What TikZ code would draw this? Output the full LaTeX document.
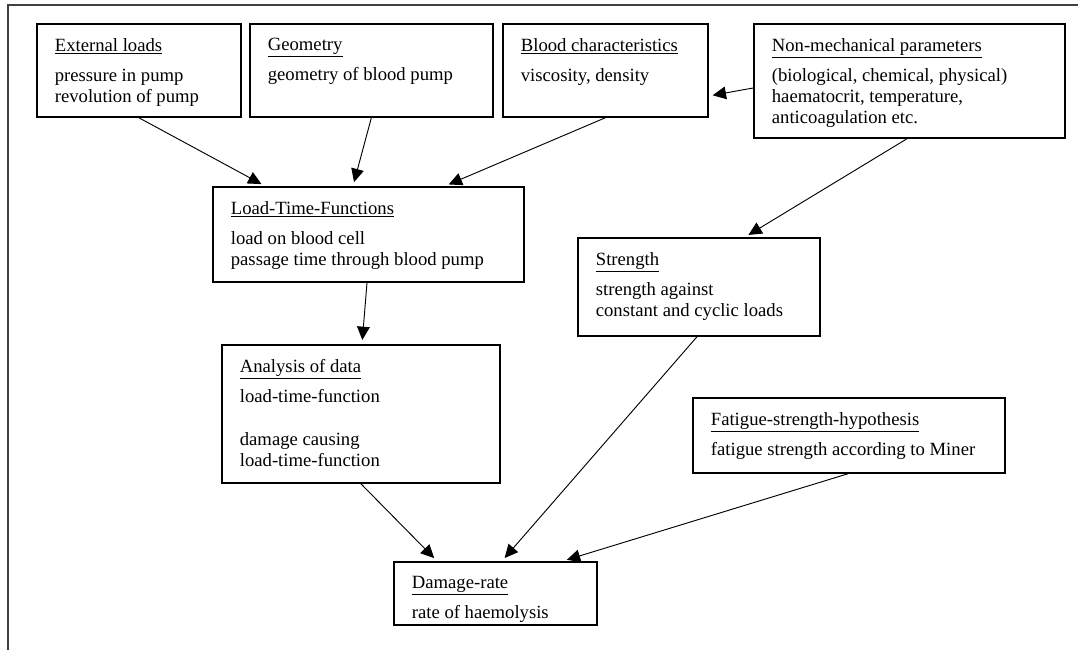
\documentclass[tikz,border=0pt]{standalone}
\usepackage{fontspec}
\setmainfont{Liberation Serif}
\usetikzlibrary{arrows.meta,calc}
\tikzset{
	card/.style={draw,line width=1.3pt,anchor=north west,inner xsep=13.5pt,inner ysep=10.75pt,font=\fontsize{14}{16}\selectfont},
	arr/.style={-{Triangle[length=10pt,width=9.5pt]},line width=0.7pt,shorten >=3pt},
	frame/.style={line width=1.4pt,black!75}
}
% box: name, x, y, width, height (all in px), heading, body
\newcommand{\card}[7]{%
	\node[card] (#1) at (#2,#3) {\parbox[t][\dimexpr #5pt*3/4-21.5pt\relax][t]{\dimexpr #4pt*3/4-27pt\relax}{\raggedright\underline{#6}\par\vspace{6.5pt}#7}};}
\begin{document}
\begin{tikzpicture}[x=0.75pt,y=-0.75pt]
		\useasboundingbox (0,0) rectangle (1080,650);
		\draw[frame] (8,650) -- (8,5) -- (1078,5);
		% top row
		\card{ext}{36}{23}{204}{93}{External loads}{pressure in pump\\revolution of pump}
		\card{geo}{249}{23}{243}{93}{Geometry}{geometry of blood pump}
		\card{blood}{502}{23}{205}{93}{Blood characteristics}{viscosity, density}
		\card{nonmech}{753}{23}{311}{114}{Non-mechanical parameters}{(biological, chemical, physical)\\haematocrit, temperature,\\anticoagulation etc.}
		% middle
		\card{ltf}{212}{186}{311}{95}{Load-Time-Functions}{load on blood cell\\passage time through blood pump}
		\card{strength}{577}{237}{242}{98}{Strength}{strength against\\constant and cyclic loads}
		\card{analysis}{221}{344}{278}{138}{Analysis of data}{load-time-function\par\vspace{16pt}damage causing\\load-time-function}
		\card{fatigue}{692}{397}{312}{75}{Fatigue-strength-hypothesis}{fatigue strength according to Miner}
		% bottom
		\card{damage}{393}{561}{203}{63}{Damage-rate}{rate of haemolysis}
		% arrows
		\draw[arr] (ext.south) -- ($(ltf.north west)+(53,0)$);
		\draw[arr] (geo.south) -- ($(ltf.north west)+(141,0)$);
		\draw[arr] (blood.south) -- ($(ltf.north west)+(233,0)$);
		\draw[arr] ($(nonmech.north west)+(0,65)$) -- ($(blood.north east)+(0,73)$);
		\draw[arr] ($(nonmech.south west)+(154,0)$) -- ($(strength.north west)+(168,0)$);
		\draw[arr] ($(ltf.south west)+(155,0)$) -- ($(analysis.north west)+(141,0)$);
		\draw[arr] (analysis.south) -- ($(damage.north west)+(44,0)$);
		\draw[arr] ($(strength.south west)+(120,0)$) -- ($(damage.north west)+(109,0)$);
		\draw[arr] ($(fatigue.south west)+(156,0)$) -- ($(damage.north west)+(170,0)$);
	\end{tikzpicture}
\end{document}
